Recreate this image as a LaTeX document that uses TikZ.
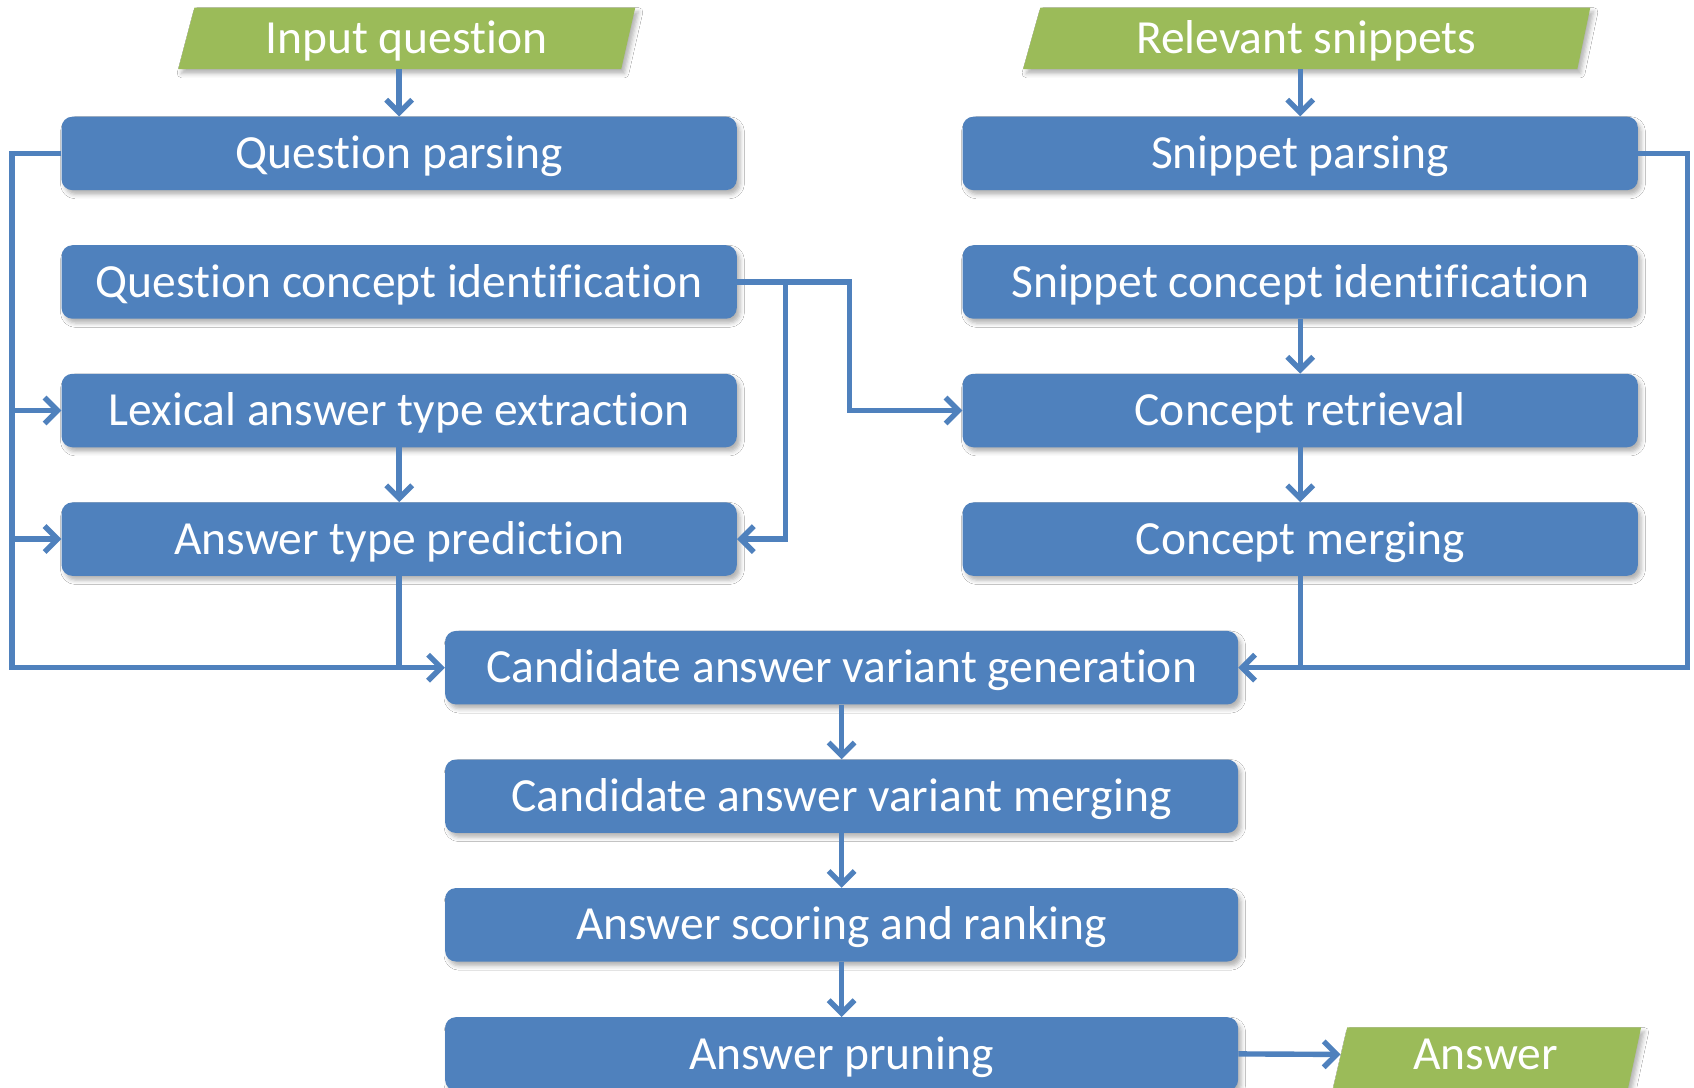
\documentclass[tikz,border=0pt]{standalone}
\usepackage{fontspec}
\setmainfont{Carlito}[Ligatures=NoCommon]
\usetikzlibrary{arrows.meta,shadows.blur,calc}
\definecolor{bblue}{HTML}{4F81BD}
\definecolor{ggreen}{HTML}{9BBB59}
\begin{document}
\begin{tikzpicture}[x=1pt,y=-1pt,
  every node/.style={font=\fontsize{44}{52}\selectfont, text=white},
  shad/.style={blur shadow={shadow xshift=3pt, shadow yshift=-4pt, shadow opacity=30, shadow blur radius=4pt}},
  box/.style={rectangle, rounded corners=10pt, fill=bblue, inner sep=0pt, minimum height=68pt, text height=37pt, text depth=9pt, shad},
  lbox/.style={box, minimum width=625pt},
  cbox/.style={box, minimum width=734pt},
  gtext/.style={rectangle, inner sep=0pt, text height=37pt, text depth=9pt},
  gshape/.style={fill=ggreen, shad},
  conn/.style={draw=bblue, line width=5pt},
  arr/.style={conn, -{Straight Barb[length=12pt,width=24pt]}}
]
\useasboundingbox (0,0) rectangle (1568,1007);
\fill[white] (0,0) rectangle (1568,1007);

% green input/output shapes
\fill[gshape] (165,64) -- (180,7) -- (588,7) -- (575,64) -- cycle;
\fill[gshape] (947,64) -- (963,7) -- (1472,7) -- (1460,64) -- cycle;
\fill[gshape] (1234,1007) -- (1247,951) -- (1519,951) -- (1507,1007) -- cycle;
\node[gtext, minimum height=57pt] (inq) at (376,35.5) {Input question};
\node[gtext, minimum height=57pt] (rs) at (1209,35.5) {Relevant snippets};
\node[gtext, minimum width=268pt] (ans) at (1375,976) {Answer};

% left column
\node[lbox] (qp)  at (369.5,142) {Question parsing};
\node[lbox] (qci) at (369.5,261) {Question concept identification};
\node[lbox] (lat) at (369.5,380) {Lexical answer type extraction};
\node[lbox] (atp) at (369.5,499) {Answer type prediction};
% right column
\node[lbox] (sp)  at (1203.5,142) {Snippet parsing};
\node[lbox] (sci) at (1203.5,261) {Snippet concept identification};
\node[lbox] (cr)  at (1203.5,380) {Concept retrieval};
\node[lbox] (cm)  at (1203.5,499) {Concept merging};
% center column
\node[cbox] (cg)  at (779,618) {Candidate answer variant generation};
\node[cbox] (cvm) at (779,737) {Candidate answer variant merging};
\node[cbox] (asr) at (779,856) {Answer scoring and ranking};
\node[cbox] (ap)  at (779,975.5) {Answer pruning};

% connectors
\draw[arr] (inq.south -| qp.north) -- (qp.north);
\draw[arr] (rs.south -| sp.north) -- (sp.north);

\coordinate (lx) at (11,142);
\draw[arr] (qp.west) -- (lx) |- (cg.west);
\draw[arr] (lx |- lat.west) -- (lat.west);
\draw[arr] (lx |- atp.west) -- (atp.west);
\draw[arr] (lat.south) -- (atp.north);
\draw[conn] (atp.south) -- (atp.south |- cg.west);

\draw[arr] (qci.east) -- ++(104,0) |- (cr.west);
\draw[arr] (qci.east) -- ++(45,0) |- (atp.east);

\coordinate (rx) at (1562,142);
\draw[arr] (sp.east) -- (rx) |- (cg.east);
\draw[arr] (sci.south) -- (cr.north);
\draw[arr] (cr.south) -- (cm.north);
\draw[conn] (cm.south) -- (cm.south |- cg.east);

\draw[arr] (cg.south) -- (cvm.north);
\draw[arr] (cvm.south) -- (asr.north);
\draw[arr] (asr.south) -- (ap.north);
\draw[arr] (ap.east) -- (ans.west);
\end{tikzpicture}
\end{document}
